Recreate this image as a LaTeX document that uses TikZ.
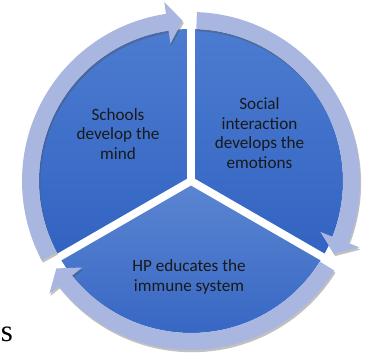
\documentclass[tikz,border=0pt]{standalone}
\usepackage{fontspec}
\setmainfont{Carlito}
\newfontfamily\timesfont{Liberation Serif}
\usetikzlibrary{shadows}
\definecolor{pieTop}{RGB}{76,124,208}
\definecolor{pieBot}{RGB}{50,99,194}
\definecolor{pieTopLow}{RGB}{92,134,210}
\definecolor{ringBlue}{RGB}{168,182,224}

\begin{document}
\begin{tikzpicture}[line cap=round,line join=round,x=0.025cm,y=0.025cm,
    wedge/.style={top color=pieTop,bottom color=pieBot,draw=none},
    lowwedge/.style={top color=pieTopLow,bottom color=pieBot,draw=none},
    gap/.style={draw=white,line width=5.5pt,line cap=butt},
    ringarrow/.style={fill=ringBlue,draw=none,
      drop shadow={shadow xshift=0.8pt,shadow yshift=-1.6pt,opacity=.35,fill=black!70}},
    label/.style={align=center,text=black!90,font=\fontsize{12.2}{14}\selectfont}]
    \useasboundingbox (0,0) rectangle (371,359);
    \begin{scope}[shift={(191,178)}]
        %%%%%%%%%%%%%%% W E D G E S %%%%%%%%%%%%%%%%
        %wedge 1 (upper left)
        \path[wedge] (0,0) -- (90:152) arc[start angle=90,end angle=210,radius=152] -- cycle;
        %wedge 2 (upper right)
        \path[wedge] (0,0) -- (-30:152) arc[start angle=-30,end angle=90,radius=152] -- cycle;
        %wedge 3 (bottom)
        \path[lowwedge] (0,0) -- (210:152) arc[start angle=210,end angle=330,radius=152] -- cycle;
        %gaps
        \draw[gap] (0,0) -- (90:160);
        \draw[gap] (0,0) -- (210:160);
        \draw[gap] (0,0) -- (330:160);
        %%%%%%%%%%%%%%% R I N G %%%%%%%%%%%%%%%%
        %arrow 1
        \path[ringarrow] (208:169) arc[start angle=208,end angle=98.5,radius=169]
            -- (98.5:181) -- (93:160.5) -- (98.5:139) -- (98.5:152)
            arc[start angle=98.5,end angle=208,radius=152] -- cycle;
        %arrow 2
        \path[ringarrow] (88:169) arc[start angle=88,end angle=-21.5,radius=169]
            -- (-21.5:181) -- (-27:160.5) -- (-21.5:139) -- (-21.5:152)
            arc[start angle=-21.5,end angle=88,radius=152] -- cycle;
        %arrow 3
        \path[ringarrow] (-32:169) arc[start angle=-32,end angle=-141.5,radius=169]
            -- (-141.5:181) -- (-147:160.5) -- (-141.5:139) -- (-141.5:152)
            arc[start angle=-141.5,end angle=-32,radius=152] -- cycle;
    \end{scope}
    %T A G S
    \node[label] (mind) at (118,225) {Schools\\develop the\\mind};
    \node[label] (emotions) at (259.5,226) {Social\\interaction\\develops the\\emotions};
    \node[label] (immune) at (189,82) {HP educates the\\immune system};
    \node[anchor=base west,inner sep=0pt,font=\timesfont\fontsize{22}{22}\selectfont] (stray) at (0.5,17) {s};
\end{tikzpicture}
\end{document}
